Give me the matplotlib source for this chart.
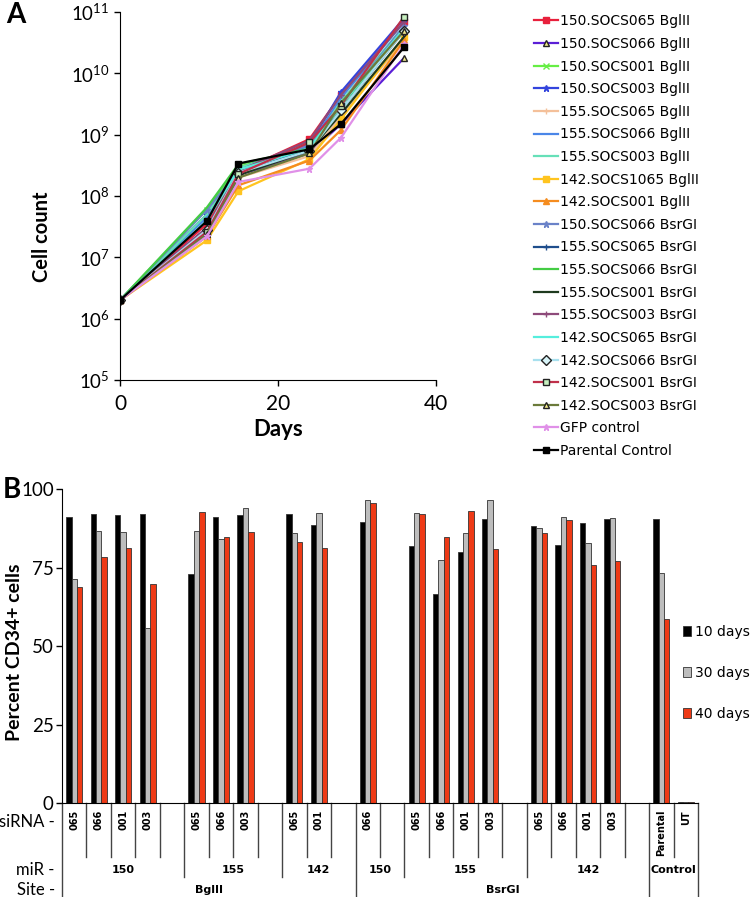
import numpy as np
import matplotlib
matplotlib.use('Agg')
import matplotlib.pyplot as plt

plt.rcParams['font.family'] = ['Lato', 'DejaVu Sans']

# ---- panel A: growth curves ----
days = [0, 11, 15, 24, 28, 36]

series_names = [
    '150.SOCS065 BglII', '150.SOCS066 BglII', '150.SOCS001 BglII', '150.SOCS003 BglII',
    '155.SOCS065 BglII', '155.SOCS066 BglII', '155.SOCS003 BglII', '142.SOCS1065 BglII',
    '142.SOCS001 BglII', '150.SOCS066 BsrGI', '155.SOCS065 BsrGI', '155.SOCS066 BsrGI',
    '155.SOCS001 BsrGI', '155.SOCS003 BsrGI', '142.SOCS065 BsrGI', '142.SOCS066 BsrGI',
    '142.SOCS001 BsrGI', '142.SOCS003 BsrGI', 'GFP control', 'Parental Control',
]

counts = [
    [2e6, 3.5e7, 2.5e8, 8.5e8, 4.5e9, 7e10],
    [2e6, 3.0e7, 2.2e8, 5.0e8, 1.5e9, 1.8e10],
    [2e6, 6.0e7, 3.0e8, 6.0e8, 3.0e9, 5e10],
    [2e6, 5.0e7, 2.8e8, 7.0e8, 5.0e9, 8e10],
    [2e6, 2.5e7, 2.0e8, 4.5e8, 2.0e9, 3.5e10],
    [2e6, 4.5e7, 2.8e8, 6.5e8, 4.0e9, 7e10],
    [2e6, 5.0e7, 2.9e8, 6.0e8, 3.5e9, 6e10],
    [2e6, 1.9e7, 1.2e8, 4.0e8, 1.8e9, 4e10],
    [2e6, 2.2e7, 1.5e8, 3.8e8, 1.2e9, 3.5e10],
    [2e6, 6.0e7, 2.5e8, 7.0e8, 3.0e9, 6e10],
    [2e6, 3.0e7, 2.3e8, 6.0e8, 2.5e9, 5e10],
    [2e6, 6.5e7, 3.3e8, 6.0e8, 3.0e9, 5e10],
    [2e6, 2.8e7, 2.2e8, 5.5e8, 2.2e9, 4e10],
    [2e6, 3.0e7, 2.6e8, 8.0e8, 4.5e9, 7e10],
    [2e6, 4.0e7, 2.7e8, 6.0e8, 3.0e9, 5.5e10],
    [2e6, 2.8e7, 2.4e8, 5.5e8, 2.5e9, 5e10],
    [2e6, 2.6e7, 2.3e8, 7.5e8, 3.0e9, 8.5e10],
    [2e6, 2.4e7, 2.0e8, 5.0e8, 3.3e9, 5e10],
    [2e6, 2.2e7, 1.7e8, 2.8e8, 9.0e8, 3e10],
    [2e6, 3.9e7, 3.4e8, 5.8e8, 1.5e9, 2.7e10],
]

# line colour, marker, marker face colour
styles = [
    ('#e8203c', 's', '#e8203c'),
    ('#5b1fd6', '^', '#f3e98a'),
    ('#66ee44', 'x', '#66ee44'),
    ('#3344dd', '*', '#3344dd'),
    ('#f4c09a', '+', '#f4c09a'),
    ('#4a86e8', '', '#4a86e8'),
    ('#66e0b8', '', '#66e0b8'),
    ('#ffc41f', 's', '#ffc41f'),
    ('#f58c1f', '^', '#f58c1f'),
    ('#6a82c8', '*', '#6a82c8'),
    ('#1f4e8c', '+', '#1f4e8c'),
    ('#44cc44', '', '#44cc44'),
    ('#1e3a1e', '', '#1e3a1e'),
    ('#8e4a7a', '+', '#8e4a7a'),
    ('#55eedd', '', '#55eedd'),
    ('#a8e0ee', 'D', '#d8f4f8'),
    ('#c0304a', 's', '#c8f0c0'),
    ('#6b7a3a', '^', '#f3e98a'),
    ('#e090e8', '*', '#e090e8'),
    ('#000000', 's', '#000000'),
]

# ---- panel B: CD34+ percentages ----
sirna = ['065', '066', '001', '003', '065', '066', '003', '065', '001', '066',
         '065', '066', '001', '003', '065', '066', '001', '003', 'Parental', 'UT']
mir = ['150'] * 4 + ['155'] * 3 + ['142'] * 2 + ['150'] + ['155'] * 4 + ['142'] * 4 + ['Control'] * 2
site = ['BglII'] * 9 + ['BsrGI'] * 9 + ['', '']

d10 = [91.2, 92.1, 91.6, 92.1, 72.9, 91.2, 91.6, 91.9, 88.7, 89.6,
       81.8, 66.5, 80.0, 90.3, 88.3, 82.3, 89.2, 90.4, 90.4, 0.4]
d30 = [71.4, 86.7, 86.3, 55.7, 86.7, 84.0, 94.0, 86.0, 92.5, 96.4,
       92.5, 77.4, 86.1, 96.5, 87.7, 91.1, 82.9, 90.7, 73.2, 0.3]
d40 = [68.7, 78.2, 81.3, 69.8, 92.7, 84.7, 86.3, 83.1, 81.1, 95.4,
       92.0, 84.8, 92.9, 81.0, 86.1, 90.1, 75.7, 77.0, 58.6, 0.3]
day_labels = ['10 days', '30 days', '40 days']
bar_colors = ['#000000', '#bdbdbd', '#ee3a16']

fig = plt.figure(figsize=(7.5, 8.97), dpi=100)

# ---------------- panel A ----------------
axA = fig.add_axes([0.16, 0.5764, 0.421, 0.410])
for name, ys, (lc, mk, mfc) in zip(series_names, counts, styles):
    if mk in ('x', '*', '+'):
        mec = lc
    elif mfc != lc:
        mec = '#222222'
    else:
        mec = lc
    axA.plot(days, ys, color=lc, lw=1.6, marker=mk if mk else None, ms=5,
             mfc=mfc, mec=mec, mew=1.0, label=name)
axA.set_yscale('log')
axA.set_ylim(1e5, 1e11)
axA.set_xlim(0, 40)
axA.set_xticks([0, 20, 40])
axA.set_xticklabels(['0', '20', '40'], fontsize=15)
axA.set_yticks([10.0 ** k for k in range(5, 12)])
axA.set_yticklabels([r'$\mathregular{10^{%d}}$' % k for k in range(5, 12)], fontsize=13.5)
axA.minorticks_off()
axA.tick_params(length=4, width=1)
axA.tick_params(axis='x', pad=6)
for s in ['top', 'right']:
    axA.spines[s].set_visible(False)
axA.set_xlabel('Days', fontsize=16, fontweight='bold', labelpad=4)
axA.set_ylabel('Cell count', fontsize=14.5, fontweight='bold')
axA.yaxis.set_label_coords(-0.215, 0.39)
fig.text(0.008, 0.983, 'A', fontsize=20, fontweight='bold', va='center')

fig.legend(*axA.get_legend_handles_labels(), loc='upper left',
           bbox_to_anchor=(0.712, 0.984), frameon=False,
           prop={'family': 'DejaVu Sans', 'size': 10},
           handlelength=1.75, handletextpad=0.1, labelspacing=0.62,
           borderpad=0, borderaxespad=0)

# ---------------- panel B ----------------
axB = fig.add_axes([0.0827, 0.1048, 0.848, 0.350])

# slot positions: a blank slot after each miR group except the controls
pos = []
slot = 0
for i in range(len(sirna)):
    if i > 0 and (mir[i] != mir[i - 1] or site[i] != site[i - 1]):
        slot += 1  # blank spacer
    pos.append(slot + 0.5)
    slot += 1
nslots = slot
pos = np.array(pos)

w = 0.22
for k, (vals, c, lab) in enumerate(zip([d10, d30, d40], bar_colors, day_labels)):
    axB.bar(pos + (k - 1) * w, vals, width=w, color=c, edgecolor='#333333',
            linewidth=0.6, label=lab)

axB.set_xlim(0, nslots)
axB.set_ylim(0, 100)
axB.set_yticks([0, 25, 50, 75, 100])
axB.set_yticklabels(['0', '25', '50', '75', '100'], fontsize=13.5)
axB.set_xticks([])
axB.tick_params(axis='y', length=4, width=1, pad=2)
for s in ['top', 'right']:
    axB.spines[s].set_visible(False)
axB.set_ylabel('Percent CD34+ cells', fontsize=14, fontweight='bold')
axB.yaxis.set_label_coords(-0.062, 0.48)
fig.text(0.004, 0.454, 'B', fontsize=20, fontweight='bold', va='center')

axB.legend(loc='upper left', bbox_to_anchor=(0.976, 0.567), frameon=False,
           prop={'family': 'DejaVu Sans', 'size': 10},
           handlelength=0.6, handleheight=0.7, handletextpad=0.25,
           labelspacing=1.95, borderpad=0, borderaxespad=0)

# table under the bars
tr = axB.get_xaxis_transform()
y_si, y_mir, y_site = -0.172, -0.236, -0.31
line_col = '#444444'


def vline(x, y1):
    axB.plot([x, x], [0, y1], color=line_col, lw=1.0, transform=tr, clip_on=False)


vline(0, y_site)
vline(nslots, y_site)
for i in range(len(sirna)):
    right = pos[i] + 0.5
    axB.text(pos[i], -0.022, sirna[i], rotation=90, ha='center', va='top',
             fontsize=7, fontweight='bold', family='DejaVu Sans', transform=tr)
    if i == len(sirna) - 1:
        continue
    vline(right, y_si)
    if mir[i + 1] != mir[i] or site[i + 1] != site[i]:
        vline(right + 1, y_site if site[i + 1] != site[i] else y_mir)

# miR and site labels
groups = []
for i in range(len(sirna)):
    if i == 0 or mir[i] != mir[i - 1] or site[i] != site[i - 1]:
        groups.append([mir[i], site[i], pos[i] - 0.5, pos[i] + 0.5])
    else:
        groups[-1][3] = pos[i] + 0.5
for g, s, a, b in groups:
    if s:
        b += 1
    axB.text((a + b) / 2, -0.213, g, ha='center', va='center', fontsize=8,
             fontweight='bold', family='DejaVu Sans', transform=tr)

sites = []
for g, s, a, b in groups:
    if not s:
        continue
    if sites and sites[-1][0] == s:
        sites[-1][2] = b + 1
    else:
        sites.append([s, a, b + 1])
for s, a, b in sites:
    axB.text((a + b) / 2, -0.277, s, ha='center', va='center', fontsize=8,
             fontweight='bold', family='DejaVu Sans', transform=tr)

for lab, y in [('siRNA -', -0.06), ('miR -', -0.213), ('Site -', -0.277)]:
    axB.text(-0.3, y, lab, ha='right', va='center', fontsize=12, transform=tr)

fig.savefig('out.png', dpi=100)
